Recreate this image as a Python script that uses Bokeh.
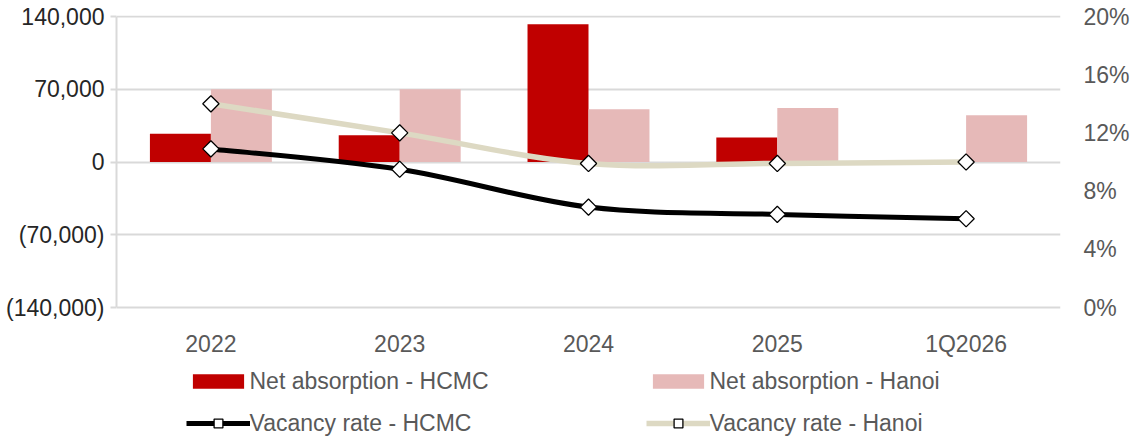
import math
from bokeh.plotting import figure
from bokeh.models import (FactorRange, Range1d, LinearAxis, FixedTicker,
                          Legend, LegendItem)
from bokeh.transform import dodge
from bokeh.embed import file_html
from bokeh.resources import INLINE

# ---------------- data ----------------
categories = ["2022", "2023", "2024", "2025", "1Q2026"]
net_absorption_hcmc = [27300, 25700, 132500, 23500, 0]
net_absorption_hanoi = [70000, 70000, 50700, 52000, 44900]
vacancy_hcmc = [10.9, 9.5, 6.9, 6.4, 6.1]
vacancy_hanoi = [14.0, 12.0, 9.9, 9.9, 10.0]

left_ticks = [-140000, -70000, 0, 70000, 140000]
left_tick_labels = ["(140,000)", "(70,000)", "0", "70,000", "140,000"]
right_ticks = [0, 4, 8, 12, 16, 20]
right_tick_labels = ["0%", "4%", "8%", "12%", "16%", "20%"]

# ---------------- style / layout ----------------
FONT = "Liberation Sans"
RED = "#C00000"
PINK = "#E6B9B8"
BEIGE = "#DDD9C3"
GRID = "#D9D9D9"
GREY_TXT = "#595959"

W, H = 1132, 437
TOP = 15            # frame top (px)
AXIS_TOP_PX = 16    # pixel of the highest tick
AXIS_BOT_PX = 307   # pixel of the lowest tick
# the frame extends to the bottom of the page so that the legend (drawn in
# the frame) is not clipped; the ranges are widened to keep the tick pixels.
unit = (left_ticks[-1] - left_ticks[0]) / (AXIS_BOT_PX - AXIS_TOP_PX)
y_hi = left_ticks[-1] + (AXIS_TOP_PX - TOP) * unit
y_lo = left_ticks[0] - (H - AXIS_BOT_PX) * unit


def to_pct(v):
    return right_ticks[0] + (v - left_ticks[0]) / (left_ticks[-1] - left_ticks[0]) * (right_ticks[-1] - right_ticks[0])


p = figure(width=W, height=H,
           x_range=FactorRange(*categories),
           y_range=Range1d(y_lo, y_hi),
           output_backend="svg", toolbar_location=None,
           min_border_left=116, min_border_right=72,
           min_border_top=TOP, min_border_bottom=0)
p.outline_line_color = None
p.background_fill_color = "white"
p.border_fill_color = "white"
p.xgrid.visible = False
p.ygrid.ticker = FixedTicker(ticks=left_ticks)
p.ygrid.grid_line_color = GRID
p.ygrid.grid_line_width = 2

# left axis
ya = p.yaxis[0]
ya.ticker = FixedTicker(ticks=left_ticks)
ya.bounds = (left_ticks[0], left_ticks[-1])
ya.major_label_overrides = dict(zip(left_ticks, left_tick_labels))
ya.axis_line_color = GRID
ya.axis_line_width = 2
ya.major_tick_line_color = GRID
ya.major_tick_line_width = 2
ya.major_tick_out = 6
ya.major_tick_in = 0
ya.minor_tick_line_color = None
ya.major_label_standoff = 6
ya.major_label_text_font = FONT
ya.major_label_text_font_size = "23px"
ya.major_label_text_color = "#262626"

# bottom axis, fixed at the lowest tick value
xa = p.xaxis[0]
xa.fixed_location = left_ticks[0]
xa.axis_line_color = None
xa.major_tick_line_color = None
xa.major_tick_out = 0
xa.major_tick_in = 0
xa.minor_tick_line_color = None
xa.major_label_standoff = 23
xa.major_label_text_font = FONT
xa.major_label_text_font_size = "23px"
xa.major_label_text_color = GREY_TXT

# right axis
p.extra_y_ranges = {"pct": Range1d(to_pct(y_lo), to_pct(y_hi))}
ra = LinearAxis(y_range_name="pct", ticker=FixedTicker(ticks=right_ticks))
ra.major_label_overrides = dict(zip(right_ticks, right_tick_labels))
ra.axis_line_color = None
ra.major_tick_line_color = None
ra.major_tick_out = 0
ra.major_tick_in = 0
ra.minor_tick_line_color = None
ra.major_label_standoff = 23
ra.major_label_text_font = FONT
ra.major_label_text_font_size = "23px"
ra.major_label_text_color = GREY_TXT
p.add_layout(ra, "right")

# bars
src = dict(cat=categories, hcmc=net_absorption_hcmc, hanoi=net_absorption_hanoi)
bw = 0.323
r_hcmc = p.vbar(x=dodge("cat", -bw / 2, range=p.x_range), top="hcmc", bottom=0,
                width=bw, source=src, fill_color=RED, line_color=None)
r_hanoi = p.vbar(x=dodge("cat", bw / 2, range=p.x_range), top="hanoi", bottom=0,
                 width=bw, source=src, fill_color=PINK, line_color=None)


# smoothed lines (Catmull-Rom style bezier like Excel's smoothed lines)
def smooth(values):
    xs = [i + 0.5 for i in range(len(values))]  # synthetic category centres
    n = len(values)
    seg = dict(x0=[], y0=[], x1=[], y1=[], cx0=[], cy0=[], cx1=[], cy1=[])
    for i in range(n - 1):
        a = max(i - 1, 0)
        d = min(i + 2, n - 1)
        seg["x0"].append(xs[i]); seg["y0"].append(values[i])
        seg["x1"].append(xs[i + 1]); seg["y1"].append(values[i + 1])
        seg["cx0"].append(xs[i] + (xs[i + 1] - xs[a]) / 6)
        seg["cy0"].append(values[i] + (values[i + 1] - values[a]) / 6)
        seg["cx1"].append(xs[i + 1] - (xs[d] - xs[i]) / 6)
        seg["cy1"].append(values[i + 1] - (values[d] - values[i]) / 6)
    return seg


l_hanoi = p.bezier(source=smooth(vacancy_hanoi), x0="x0", y0="y0", x1="x1", y1="y1",
                   cx0="cx0", cy0="cy0", cx1="cx1", cy1="cy1",
                   line_color=BEIGE, line_width=5.5, line_cap="butt", y_range_name="pct")
l_hcmc = p.bezier(source=smooth(vacancy_hcmc), x0="x0", y0="y0", x1="x1", y1="y1",
                  cx0="cx0", cy0="cy0", cx1="cx1", cy1="cy1",
                  line_color="black", line_width=5, line_cap="butt", y_range_name="pct")

m_hanoi = p.scatter(x=categories, y=vacancy_hanoi, marker="square", angle=math.pi / 4,
                    size=11.5, fill_color="white", line_color="black", line_width=1.3,
                    y_range_name="pct")
m_hcmc = p.scatter(x=categories, y=vacancy_hcmc, marker="square", angle=math.pi / 4,
                   size=11.5, fill_color="white", line_color="black", line_width=1.3,
                   y_range_name="pct")

legend_style = dict(orientation="horizontal", glyph_width=64, label_standoff=0,
                    label_width=381, label_height=24, spacing=15, padding=0, margin=0,
                    border_line_color=None, background_fill_alpha=0,
                    label_text_font=FONT, label_text_font_size="23px",
                    label_text_color=GREY_TXT)

legend_bars = Legend(items=[
    LegendItem(label="Net absorption - HCMC", renderers=[r_hcmc]),
    LegendItem(label="Net absorption - Hanoi", renderers=[r_hanoi]),
], location=(69.5, 42.5), glyph_height=18, **legend_style)

legend_lines = Legend(items=[
    LegendItem(label="Vacancy rate - HCMC", renderers=[l_hcmc, m_hcmc]),
    LegendItem(label="Vacancy rate - Hanoi", renderers=[l_hanoi, m_hanoi]),
], location=(69.5, 0.5), glyph_height=22, **legend_style)

p.add_layout(legend_bars)
p.add_layout(legend_lines)

open("out.html", "w").write(file_html(p, INLINE))
